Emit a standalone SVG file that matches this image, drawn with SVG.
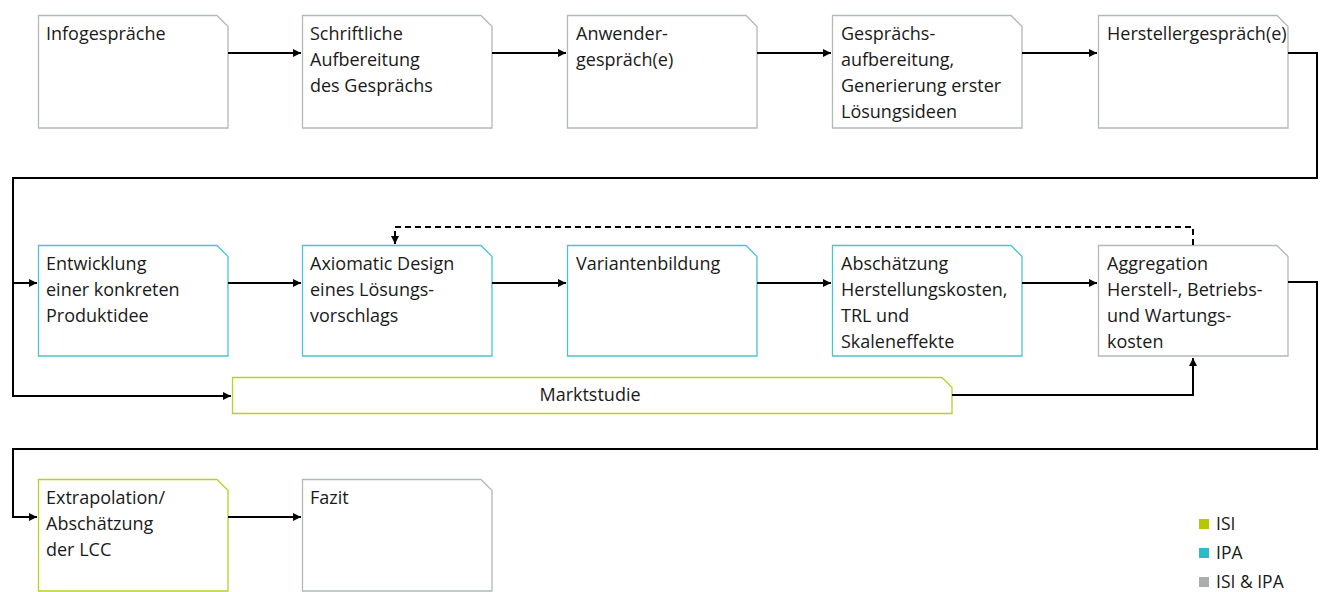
<svg xmlns="http://www.w3.org/2000/svg" width="1325" height="592" viewBox="0 0 1325 592">
  <defs>
    <marker id="arr" viewBox="0 0 10 10" refX="10" refY="5" markerWidth="4" markerHeight="4" orient="auto" markerUnits="strokeWidth">
      <path d="M0,0 L10,5 L0,10 z" fill="#000"/>
    </marker>
  </defs>
  <style>
    .box { fill: #fff; stroke-width: 1.3; }
    .both { stroke: #b3b8b8; }
    .ipa { stroke: #4cc3d3; }
    .isi { stroke: #bcd020; }
    .lbl { font-family: "Open Sans", "Noto Sans", sans-serif; font-size: 18px; fill: #1a1a1a; }
    .leg { font-family: "Open Sans", "Noto Sans", sans-serif; font-size: 17.5px; fill: #1a1a1a; }
    .con { fill: none; stroke: #000; stroke-width: 2; }
    .dash { fill: none; stroke: #000; stroke-width: 2; stroke-dasharray: 6 4; }
  </style>
  <rect width="1325" height="592" fill="#fff"/>

  <!-- row 1 -->
  <g id="n-infogespraeche">
    <path class="box both" d="M38.5,15.5 H217 L228,26.5 V128 H38.5 Z"/>
    <text class="lbl" x="46" y="40">Infogespräche</text>
  </g>
  <g id="n-schriftlich">
    <path class="box both" d="M302.5,15.5 H481 L492,26.5 V128 H302.5 Z"/>
    <text class="lbl" x="310" y="40">Schriftliche</text>
    <text class="lbl" x="310" y="66">Aufbereitung</text>
    <text class="lbl" x="310" y="92">des Gesprächs</text>
  </g>
  <g id="n-anwender">
    <path class="box both" d="M567.5,15.5 H746 L757,26.5 V128 H567.5 Z"/>
    <text class="lbl" x="576" y="40">Anwender-</text>
    <text class="lbl" x="576" y="66">gespräch(e)</text>
  </g>
  <g id="n-aufbereitung">
    <path class="box both" d="M832.5,15.5 H1011 L1022,26.5 V128 H832.5 Z"/>
    <text class="lbl" x="841" y="40">Gesprächs-</text>
    <text class="lbl" x="841" y="66">aufbereitung,</text>
    <text class="lbl" x="841" y="92">Generierung erster</text>
    <text class="lbl" x="841" y="118">Lösungsideen</text>
  </g>
  <g id="n-hersteller">
    <path class="box both" d="M1098.5,15.5 H1277 L1288,26.5 V128 H1098.5 Z"/>
    <text class="lbl" x="1107" y="40">Herstellergespräch(e)</text>
  </g>

  <!-- row 2 -->
  <g id="n-entwicklung">
    <path class="box ipa" d="M38.5,245.5 H217 L228,256.5 V356 H38.5 Z"/>
    <text class="lbl" x="46" y="270">Entwicklung</text>
    <text class="lbl" x="46" y="296">einer konkreten</text>
    <text class="lbl" x="46" y="322">Produktidee</text>
  </g>
  <g id="n-axiomatic">
    <path class="box ipa" d="M302.5,245.5 H481 L492,256.5 V356 H302.5 Z"/>
    <text class="lbl" x="310" y="270">Axiomatic Design</text>
    <text class="lbl" x="310" y="296">eines Lösungs-</text>
    <text class="lbl" x="310" y="322">vorschlags</text>
  </g>
  <g id="n-varianten">
    <path class="box ipa" d="M567.5,245.5 H746 L757,256.5 V356 H567.5 Z"/>
    <text class="lbl" x="576" y="270">Variantenbildung</text>
  </g>
  <g id="n-abschaetzung">
    <path class="box ipa" d="M832.5,245.5 H1011 L1022,256.5 V356 H832.5 Z"/>
    <text class="lbl" x="841" y="270">Abschätzung</text>
    <text class="lbl" x="841" y="296">Herstellungskosten,</text>
    <text class="lbl" x="841" y="322">TRL und</text>
    <text class="lbl" x="841" y="348">Skaleneffekte</text>
  </g>
  <g id="n-aggregation">
    <path class="box both" d="M1098.5,245.5 H1277 L1288,256.5 V356 H1098.5 Z"/>
    <text class="lbl" x="1107" y="270">Aggregation</text>
    <text class="lbl" x="1107" y="296">Herstell-, Betriebs-</text>
    <text class="lbl" x="1107" y="322">und Wartungs-</text>
    <text class="lbl" x="1107" y="348">kosten</text>
  </g>
  <g id="n-marktstudie">
    <path class="box isi" d="M232.5,377.5 H942 L952,387.5 V413.5 H232.5 Z"/>
    <text class="lbl" x="590" y="401" text-anchor="middle">Marktstudie</text>
  </g>

  <!-- row 3 -->
  <g id="n-extrapolation">
    <path class="box isi" d="M38.5,479.5 H217 L228,490.5 V591 H38.5 Z"/>
    <text class="lbl" x="46" y="504">Extrapolation/</text>
    <text class="lbl" x="46" y="530">Abschätzung</text>
    <text class="lbl" x="46" y="556">der LCC</text>
  </g>
  <g id="n-fazit">
    <path class="box both" d="M302.5,479.5 H481 L492,490.5 V591 H302.5 Z"/>
    <text class="lbl" x="310" y="504">Fazit</text>
  </g>

  <!-- connectors -->
  <g id="connectors">
    <path class="con" d="M228,53 H301" marker-end="url(#arr)"/>
    <path class="con" d="M492,53 H566" marker-end="url(#arr)"/>
    <path class="con" d="M757,53 H831" marker-end="url(#arr)"/>
    <path class="con" d="M1022,53 H1097" marker-end="url(#arr)"/>
    <path class="con" d="M1288,53 H1317 V178 H13 V283 H37" marker-end="url(#arr)"/>
    <path class="con" d="M13,283 V396 H231" marker-end="url(#arr)"/>
    <path class="con" d="M228,283 H301" marker-end="url(#arr)"/>
    <path class="con" d="M492,283 H566" marker-end="url(#arr)"/>
    <path class="con" d="M757,283 H831" marker-end="url(#arr)"/>
    <path class="con" d="M1022,283 H1097" marker-end="url(#arr)"/>
    <path class="dash" d="M1193,245 V227 H395 V244" marker-end="url(#arr)"/>
    <path class="con" d="M952,395 H1193 V358" marker-end="url(#arr)"/>
    <path class="con" d="M1288,282 H1317 V449 H13 V517 H37" marker-end="url(#arr)"/>
    <path class="con" d="M228,517 H301" marker-end="url(#arr)"/>
  </g>

  <!-- legend -->
  <g id="legend">
    <rect x="1199" y="519" width="10" height="10" fill="#b5c800"/>
    <text class="leg" x="1216" y="530">ISI</text>
    <rect x="1199" y="548" width="10" height="10" fill="#33b8cb"/>
    <text class="leg" x="1216" y="559">IPA</text>
    <rect x="1199" y="577" width="10" height="10" fill="#a9afaf"/>
    <text class="leg" x="1216" y="588">ISI &amp; IPA</text>
  </g>
</svg>
